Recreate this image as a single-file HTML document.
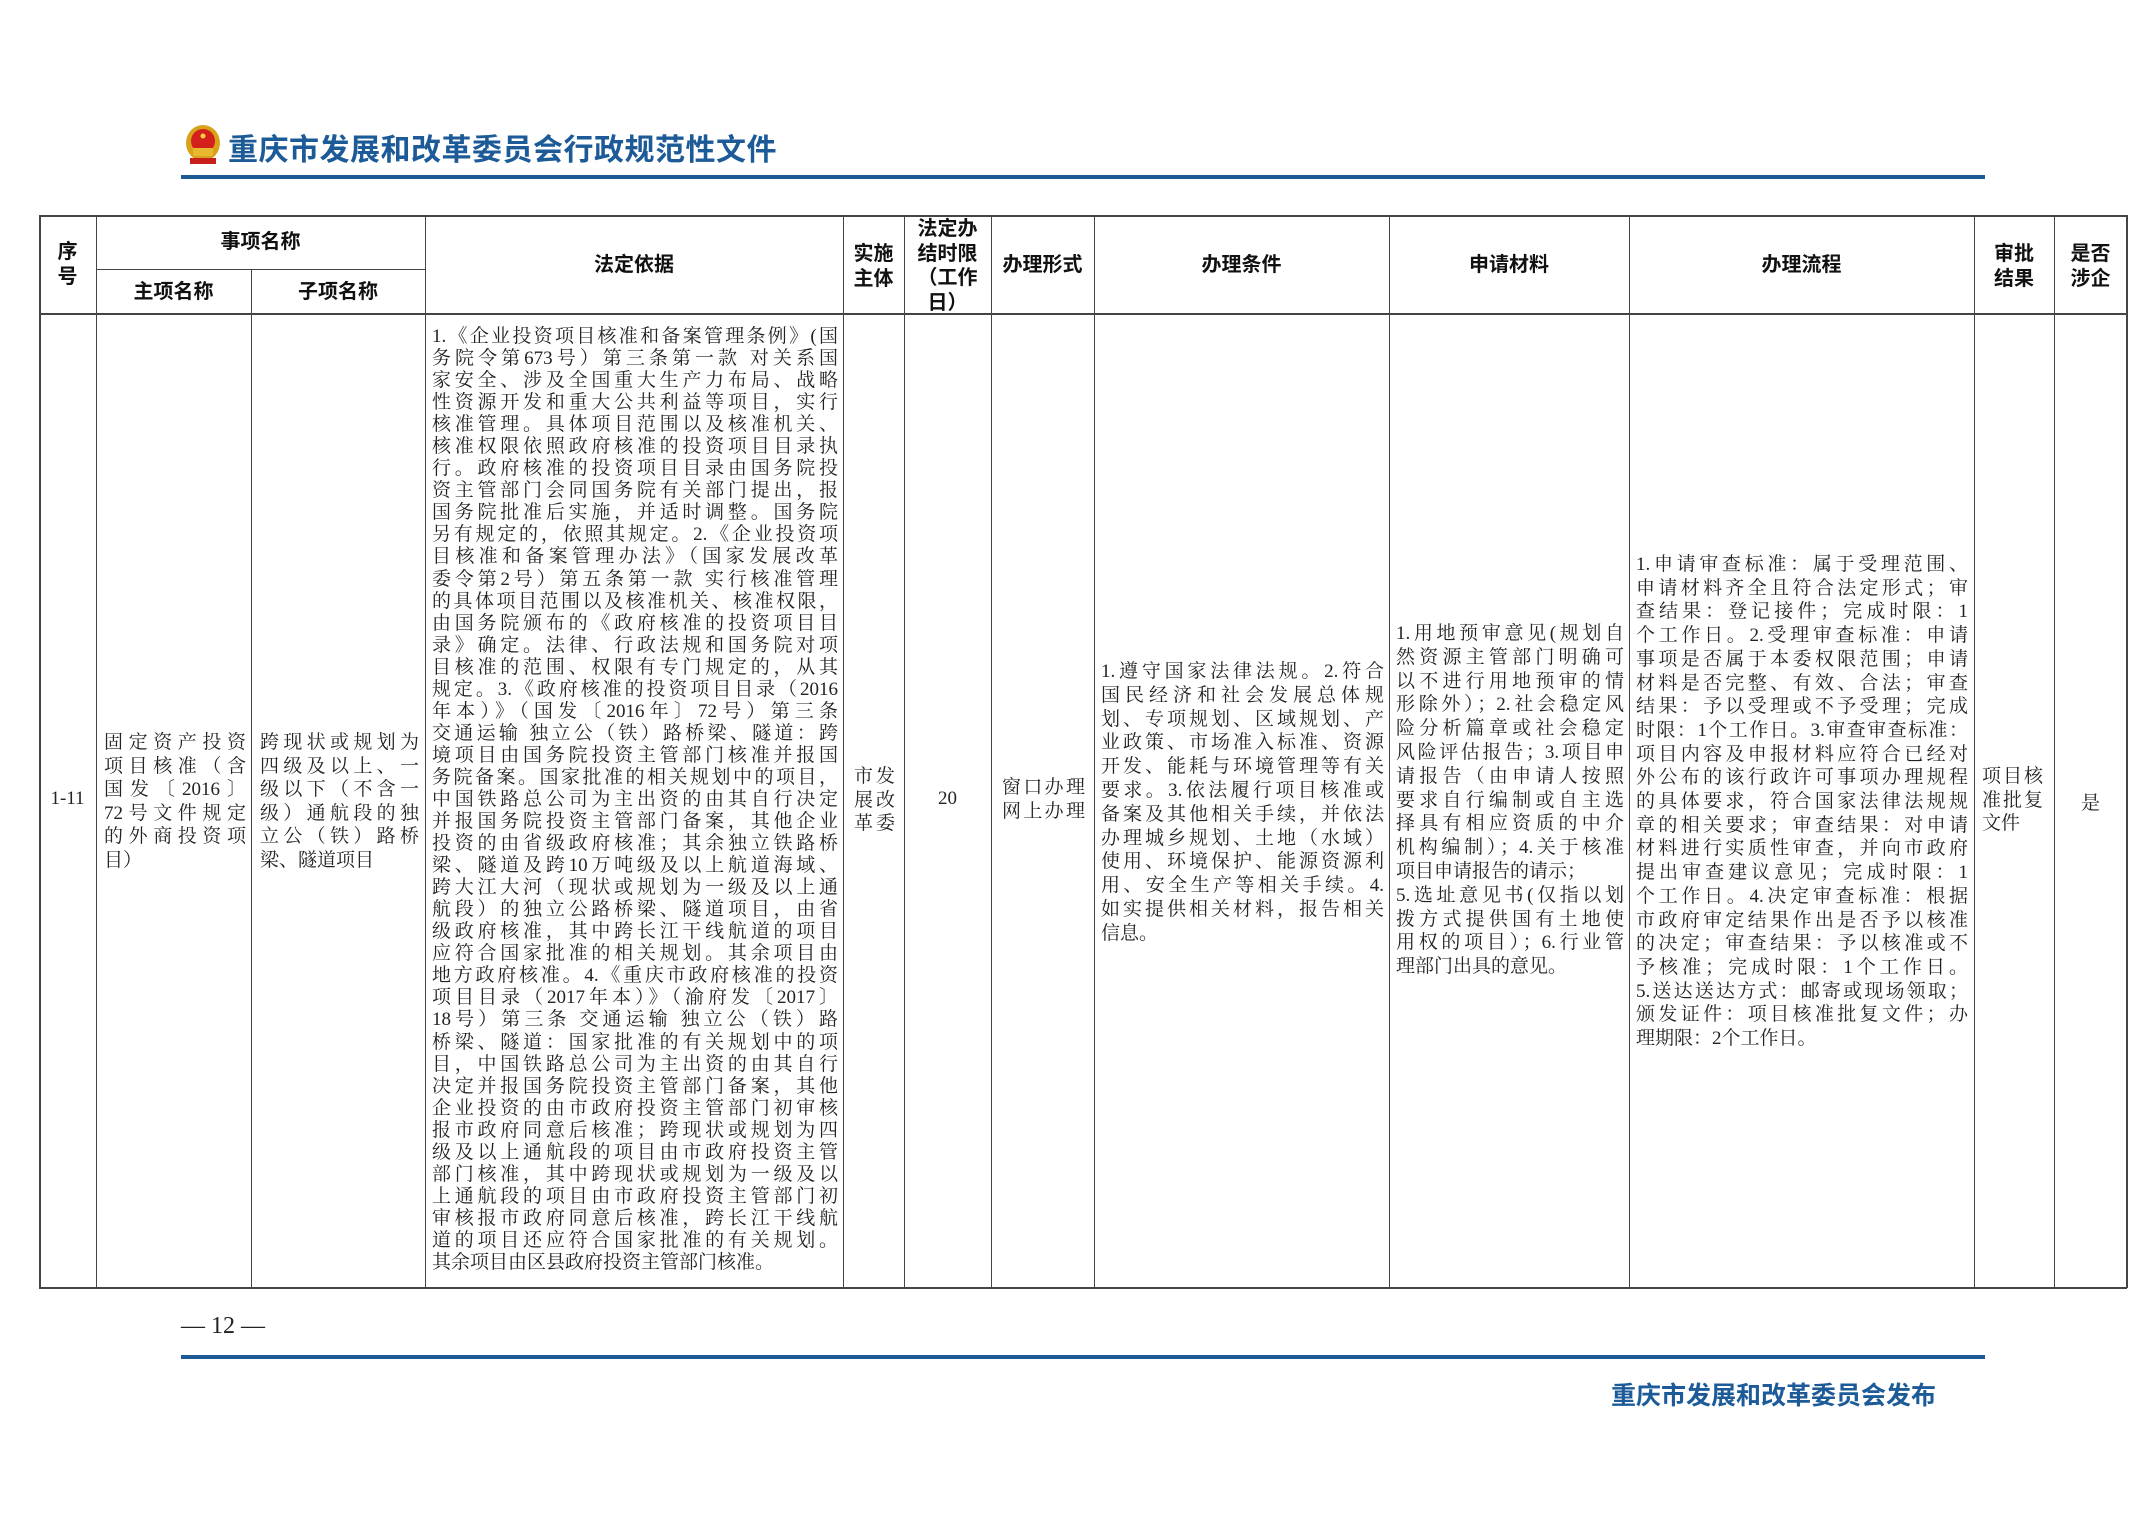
<!DOCTYPE html>
<html><head><meta charset="utf-8">
<style>
*{margin:0;padding:0;box-sizing:border-box}
body{width:2149px;height:1520px;background:#fff;position:relative;overflow:hidden;font-family:"Liberation Serif","Noto Serif CJK SC",serif;color:#222}
.a{position:absolute}
.h{position:absolute;height:1.6px;background:#444}
.v{position:absolute;width:1.6px;background:#444}
.hd{position:absolute;font-family:"Liberation Sans","Noto Sans CJK SC",sans-serif;font-weight:bold;font-size:20px;color:#111;text-align:center;line-height:24.5px}
.blk{position:absolute;font-size:19px;white-space:nowrap}
.blk div{text-align:justify;text-align-last:justify;overflow:visible}
.blk div.s{text-align-last:left}
.c{position:absolute;font-size:19px;text-align:center}
</style></head><body>

<!-- logo -->
<svg class="a" style="left:184px;top:124px" width="38" height="42" viewBox="0 0 38 42">
<ellipse cx="19" cy="19" rx="17" ry="18" fill="#d8a21a"/>
<ellipse cx="19" cy="17" rx="12" ry="12" fill="#d4201c"/>
<rect x="9" y="24" width="20" height="8" fill="#e8b830"/>
<rect x="6" y="34" width="26" height="6" fill="#c8201a"/>
<circle cx="19" cy="12" r="2.5" fill="#f5d040"/>
</svg>
<div class="a" style="left:228px;top:125px;font-family:'Liberation Sans','Noto Sans CJK SC',sans-serif;font-size:30px;font-weight:bold;color:#1d5b98;letter-spacing:0.5px;white-space:nowrap">重庆市发展和改革委员会行政规范性文件</div>
<div class="a" style="left:181px;top:175px;width:1804px;height:4px;background:#1b5a94"></div>

<!-- table lines -->
<div class="h" style="left:39px;top:215px;width:2088px"></div>
<div class="h" style="left:96px;top:269px;width:329px;height:1.2px"></div>
<div class="h" style="left:39px;top:313px;width:2088px"></div>
<div class="h" style="left:39px;top:1287px;width:2088px"></div>
<div class="v" style="left:39px;top:215px;height:1073px"></div>
<div class="v" style="left:96px;top:215px;height:1073px;width:1.2px"></div>
<div class="v" style="left:251px;top:269px;height:1019px;width:1.2px"></div>
<div class="v" style="left:425px;top:215px;height:1073px;width:1.2px"></div>
<div class="v" style="left:843px;top:215px;height:1073px;width:1.2px"></div>
<div class="v" style="left:904px;top:215px;height:1073px;width:1.2px"></div>
<div class="v" style="left:991px;top:215px;height:1073px;width:1.2px"></div>
<div class="v" style="left:1094px;top:215px;height:1073px;width:1.2px"></div>
<div class="v" style="left:1389px;top:215px;height:1073px;width:1.2px"></div>
<div class="v" style="left:1629px;top:215px;height:1073px;width:1.2px"></div>
<div class="v" style="left:1974px;top:215px;height:1073px;width:1.2px"></div>
<div class="v" style="left:2054px;top:215px;height:1073px;width:1.2px"></div>
<div class="v" style="left:2126px;top:215px;height:1073px"></div>

<!-- header -->
<div class="hd" style="left:39px;width:57px;top:240px">序<br>号</div>
<div class="hd" style="left:96px;width:329px;top:230px">事项名称</div>
<div class="hd" style="left:96px;width:155px;top:280px">主项名称</div>
<div class="hd" style="left:251px;width:174px;top:280px">子项名称</div>
<div class="hd" style="left:425px;width:418px;top:253px">法定依据</div>
<div class="hd" style="left:843px;width:61px;top:242px">实施<br>主体</div>
<div class="hd" style="left:904px;width:87px;top:217px">法定办<br>结时限<br>（工作<br>日）</div>
<div class="hd" style="left:991px;width:103px;top:253px">办理形式</div>
<div class="hd" style="left:1094px;width:295px;top:253px">办理条件</div>
<div class="hd" style="left:1389px;width:240px;top:253px">申请材料</div>
<div class="hd" style="left:1629px;width:345px;top:253px">办理流程</div>
<div class="hd" style="left:1974px;width:80px;top:242px">审批<br>结果</div>
<div class="hd" style="left:2054px;width:73px;top:242px">是否<br>涉企</div>

<!-- body -->
<div class="c" style="left:39px;width:57px;top:788px">1-11</div>
<div class="blk" style="left:104px;width:142px;top:731px;line-height:23.6px">
<div>固定资产投资</div><div>项目核准（含</div><div>国发〔2016〕</div><div>72号文件规定</div><div>的外商投资项</div><div class="s">目）</div></div>
<div class="blk" style="left:260px;width:159px;top:731px;line-height:23.6px">
<div>跨现状或规划为</div><div>四级及以上、一</div><div>级以下（不含一</div><div>级）通航段的独</div><div>立公（铁）路桥</div><div class="s">梁、隧道项目</div></div>

<div class="blk" style="left:432px;width:406px;top:326px;line-height:22.05px">
<div>1.《企业投资项目核准和备案管理条例》(国</div>
<div>务院令第673号）第三条第一款 对关系国</div>
<div>家安全、涉及全国重大生产力布局、战略</div>
<div>性资源开发和重大公共利益等项目，实行</div>
<div>核准管理。具体项目范围以及核准机关、</div>
<div>核准权限依照政府核准的投资项目目录执</div>
<div>行。政府核准的投资项目目录由国务院投</div>
<div>资主管部门会同国务院有关部门提出，报</div>
<div>国务院批准后实施，并适时调整。国务院</div>
<div>另有规定的，依照其规定。2.《企业投资项</div>
<div>目核准和备案管理办法》（国家发展改革</div>
<div>委令第2号）第五条第一款 实行核准管理</div>
<div>的具体项目范围以及核准机关、核准权限，</div>
<div>由国务院颁布的《政府核准的投资项目目</div>
<div>录》确定。法律、行政法规和国务院对项</div>
<div>目核准的范围、权限有专门规定的，从其</div>
<div>规定。3.《政府核准的投资项目目录（2016</div>
<div>年本）》（国发〔2016年〕72号）第三条</div>
<div>交通运输 独立公（铁）路桥梁、隧道：跨</div>
<div>境项目由国务院投资主管部门核准并报国</div>
<div>务院备案。国家批准的相关规划中的项目，</div>
<div>中国铁路总公司为主出资的由其自行决定</div>
<div>并报国务院投资主管部门备案，其他企业</div>
<div>投资的由省级政府核准；其余独立铁路桥</div>
<div>梁、隧道及跨10万吨级及以上航道海域、</div>
<div>跨大江大河（现状或规划为一级及以上通</div>
<div>航段）的独立公路桥梁、隧道项目，由省</div>
<div>级政府核准，其中跨长江干线航道的项目</div>
<div>应符合国家批准的相关规划。其余项目由</div>
<div>地方政府核准。4.《重庆市政府核准的投资</div>
<div>项目目录（2017年本）》（渝府发〔2017〕</div>
<div>18号）第三条 交通运输 独立公（铁）路</div>
<div>桥梁、隧道：国家批准的有关规划中的项</div>
<div>目，中国铁路总公司为主出资的由其自行</div>
<div>决定并报国务院投资主管部门备案，其他</div>
<div>企业投资的由市政府投资主管部门初审核</div>
<div>报市政府同意后核准；跨现状或规划为四</div>
<div>级及以上通航段的项目由市政府投资主管</div>
<div>部门核准，其中跨现状或规划为一级及以</div>
<div>上通航段的项目由市政府投资主管部门初</div>
<div>审核报市政府同意后核准，跨长江干线航</div>
<div>道的项目还应符合国家批准的有关规划。</div>
<div class="s">其余项目由区县政府投资主管部门核准。</div>
</div>

<div class="blk" style="left:854px;width:41px;top:765px;line-height:23.6px"><div>市发</div><div>展改</div><div>革委</div></div>
<div class="c" style="left:904px;width:87px;top:788px">20</div>
<div class="blk" style="left:1002px;width:83px;top:776px;line-height:23.6px"><div>窗口办理</div><div>网上办理</div></div>

<div class="blk" style="left:1101px;width:283px;top:660px;line-height:23.8px">
<div>1.遵守国家法律法规。2.符合</div>
<div>国民经济和社会发展总体规</div>
<div>划、专项规划、区域规划、产</div>
<div>业政策、市场准入标准、资源</div>
<div>开发、能耗与环境管理等有关</div>
<div>要求。3.依法履行项目核准或</div>
<div>备案及其他相关手续，并依法</div>
<div>办理城乡规划、土地（水域）</div>
<div>使用、环境保护、能源资源利</div>
<div>用、安全生产等相关手续。4.</div>
<div>如实提供相关材料，报告相关</div>
<div class="s">信息。</div>
</div>

<div class="blk" style="left:1396px;width:228px;top:622px;line-height:23.8px">
<div>1.用地预审意见(规划自</div>
<div>然资源主管部门明确可</div>
<div>以不进行用地预审的情</div>
<div>形除外）；2.社会稳定风</div>
<div>险分析篇章或社会稳定</div>
<div>风险评估报告；3.项目申</div>
<div>请报告（由申请人按照</div>
<div>要求自行编制或自主选</div>
<div>择具有相应资质的中介</div>
<div>机构编制）；4.关于核准</div>
<div class="s">项目申请报告的请示；</div>
<div>5.选址意见书(仅指以划</div>
<div>拨方式提供国有土地使</div>
<div>用权的项目）；6.行业管</div>
<div class="s">理部门出具的意见。</div>
</div>

<div class="blk" style="left:1636px;width:332px;top:553px;line-height:23.7px">
<div>1.申请审查标准：属于受理范围、</div>
<div>申请材料齐全且符合法定形式；审</div>
<div>查结果：登记接件；完成时限：1</div>
<div>个工作日。2.受理审查标准：申请</div>
<div>事项是否属于本委权限范围；申请</div>
<div>材料是否完整、有效、合法；审查</div>
<div>结果：予以受理或不予受理；完成</div>
<div>时限：1个工作日。3.审查审查标准：</div>
<div>项目内容及申报材料应符合已经对</div>
<div>外公布的该行政许可事项办理规程</div>
<div>的具体要求，符合国家法律法规规</div>
<div>章的相关要求；审查结果：对申请</div>
<div>材料进行实质性审查，并向市政府</div>
<div>提出审查建议意见；完成时限：1</div>
<div>个工作日。4.决定审查标准：根据</div>
<div>市政府审定结果作出是否予以核准</div>
<div>的决定；审查结果：予以核准或不</div>
<div>予核准；完成时限：1个工作日。</div>
<div>5.送达送达方式：邮寄或现场领取；</div>
<div>颁发证件：项目核准批复文件；办</div>
<div class="s">理期限：2个工作日。</div>
</div>

<div class="blk" style="left:1982px;width:61px;top:765px;line-height:23.6px"><div>项目核</div><div>准批复</div><div class="s">文件</div></div>
<div class="c" style="left:2054px;width:73px;top:788px">是</div>

<!-- footer -->
<div class="a" style="left:181px;top:1313px;font-size:24px;white-space:nowrap">— 12 —</div>
<div class="a" style="left:181px;top:1355px;width:1804px;height:4px;background:#1b5a94"></div>
<div class="a" style="left:1611px;top:1376px;font-family:'Liberation Sans','Noto Sans CJK SC',sans-serif;font-size:25px;font-weight:bold;color:#1d5b98;white-space:nowrap">重庆市发展和改革委员会发布</div>
</body></html>
